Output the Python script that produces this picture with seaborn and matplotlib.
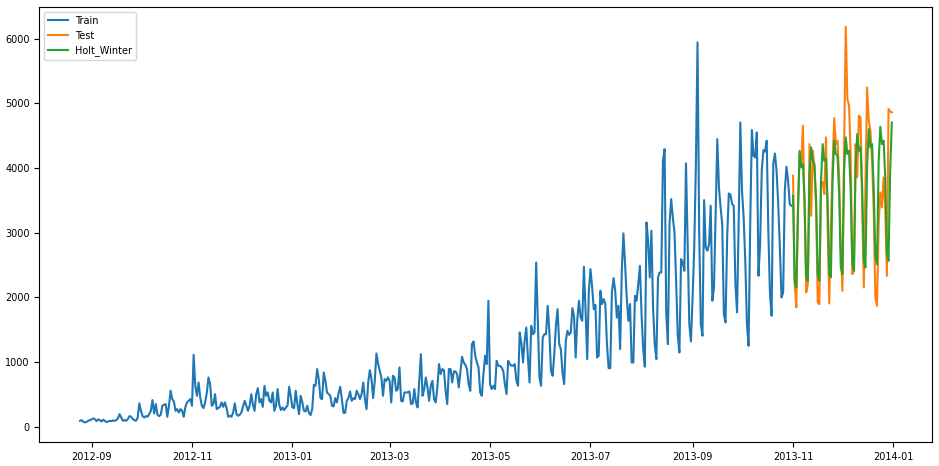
import matplotlib
matplotlib.use('Agg')
import matplotlib.pyplot as plt
import pandas as pd
import seaborn as sns

# daily counts
train_start = '2012-08-25'
test_start = '2013-11-01'

train_values = [
    93, 103, 77, 67, 77, 93, 103, 113, 129, 119, 88, 113, 103, 82, 108, 93, 72, 82, 93, 88,
    98, 93, 103, 129, 196, 144, 93, 103, 93, 119, 165, 155, 119, 103, 93, 139, 361, 247, 165, 144,
    165, 155, 196, 247, 412, 206, 351, 186, 165, 186, 325, 340, 351, 155, 325, 557, 428, 392, 247, 273,
    222,
    273, 247, 155, 309, 376, 402, 428, 325, 1113, 634, 479, 685, 453, 325, 289, 376, 531, 763, 660, 325,
    350, 505, 273, 289, 309, 376, 309, 376, 289, 155, 170, 155, 222, 361, 196, 170, 186, 222, 309, 402,
    325, 247, 325, 505, 340, 247, 505, 598, 376, 428, 309, 634, 479, 531, 402, 376, 531, 247, 325, 583,
    340, 258, 299,
    258, 299, 325, 618, 464, 299, 289, 557, 351, 196, 479, 376, 247, 237, 325, 216, 180, 273, 649, 634,
    892, 737, 443, 428, 840, 711, 531, 505, 479, 325, 315, 443, 376, 515, 618, 428, 216, 216, 402, 443,
    546, 402, 443, 428, 557, 505, 428, 505, 685, 428, 273, 685, 876, 737, 443, 711, 1134, 979, 866, 763,
    479, 737, 711,
    763, 711, 376, 789, 763, 557, 582, 917, 402, 392, 531, 531, 531, 547, 350, 361, 582, 376, 299, 711,
    1123, 479, 582, 763, 608, 402, 634, 711, 428, 376, 608, 969, 815, 892, 876, 557, 350, 892, 892, 685,
    856, 856, 815, 608, 840, 1082, 995, 958, 892, 660, 557, 1278, 1319, 1098, 995, 917, 531, 479, 815, 1098,
    969, 1948, 660, 582,
    634, 583, 1020, 943, 943, 917, 866, 660, 505, 1020, 969, 943, 943, 969, 711, 634, 1458, 1303, 995, 1329,
    1535, 1071, 685, 1561, 1432, 1458, 2540, 1639, 762, 634, 1381, 1432, 1432, 1871, 1484, 866, 788, 1123, 1561, 1819,
    1278, 1200, 840, 660, 1329, 1484, 1422, 1458, 1834, 1716, 1071, 1664, 1948, 1690, 1639, 2474, 1793, 1046, 2103, 2438,
    2155, 1819, 1883, 1071,
    1098, 2103, 1897, 1974, 1897, 1278, 907, 907, 2077, 2298, 2103, 1690, 1871, 1201, 2412, 2989, 2515, 1999, 1639, 1897,
    994, 994, 2025, 1948, 2206, 2489, 1742, 1201, 928, 3159, 2876, 2309, 3030, 1845, 1278, 1046, 2309, 2386, 2386, 4112,
    4293, 1742, 1278, 3133, 3520, 3236, 3004, 2257, 1407, 1149, 2592, 2540, 2412, 4071, 2825, 1588, 1319, 1999, 2772, 4061,
    5942,
    3030, 1588, 1407, 3504, 2772, 2721, 2825, 3417, 1948, 2154, 3288, 4447, 3700, 3391, 3133, 1742, 1613, 2927, 3607, 3587,
    3443, 3417, 2206, 1768, 3185, 4705, 3649, 3236, 2566, 1588, 1252, 3133, 4587, 4190, 4164, 4550, 2334, 2825, 3958, 4277,
    4256, 4422, 3030, 2051, 1716, 4061, 4225, 3958, 3443, 2772, 1999, 2077, 3649, 4020, 3803, 3443, 3417,
]

test_values = [
    3880, 2206, 1845, 3391, 4216, 4061, 4653, 3391, 2077, 2206, 4370, 3262, 4267, 4009, 3417, 1922, 1896, 3803, 3777, 3597,
    4473, 3133, 1906, 3133, 4009, 4772, 4370, 4422, 3855, 2772, 2103, 4267, 6184, 5066, 4963, 4216, 2360, 2412, 4370, 3855,
    4808, 4782, 3391, 2154, 3803, 5246, 4731, 4576, 4112, 3339, 1999, 1871, 3133, 3623, 3391, 3855, 3391, 2334, 4911, 4875,
    4860,
]

holt_winter_values = [
    3571, 2257, 2154, 3339, 4267, 4009, 4061, 3494, 2309, 2257, 3906, 4319, 4112, 4061, 3494, 2360, 2257, 3803, 4370, 4112,
    4138, 3494, 2360, 2309, 3803, 4422, 4216, 4190, 3597, 2463, 2360, 3958, 4473, 4216, 4267, 3649, 2514, 2412, 4061, 4525,
    4267, 4319, 3700, 2566, 2463, 4061, 4602, 4319, 4370, 3700, 2618, 2514, 4112, 4638, 4370, 4422, 3855, 2670, 2566, 3958,
    4705,
]

train = pd.DataFrame({'Datetime': pd.date_range(train_start, periods=len(train_values), freq='D'),
                      'Count': train_values})
test = pd.DataFrame({'Datetime': pd.date_range(test_start, periods=len(test_values), freq='D'),
                     'Count': test_values,
                     'Holt_Winter': holt_winter_values})

plt.rcParams['font.size'] = 7
fig, ax = plt.subplots(figsize=(9.39, 4.66), dpi=100)
fig.subplots_adjust(left=0.042, right=0.993, top=0.985, bottom=0.051)

sns.lineplot(data=train, x='Datetime', y='Count', label='Train', ax=ax)
sns.lineplot(data=test, x='Datetime', y='Count', label='Test', ax=ax)
sns.lineplot(data=test, x='Datetime', y='Holt_Winter', label='Holt_Winter', ax=ax)

ax.set_xlabel('')
ax.set_ylabel('')
ax.legend(loc='upper left')

fig.savefig('out.png')
